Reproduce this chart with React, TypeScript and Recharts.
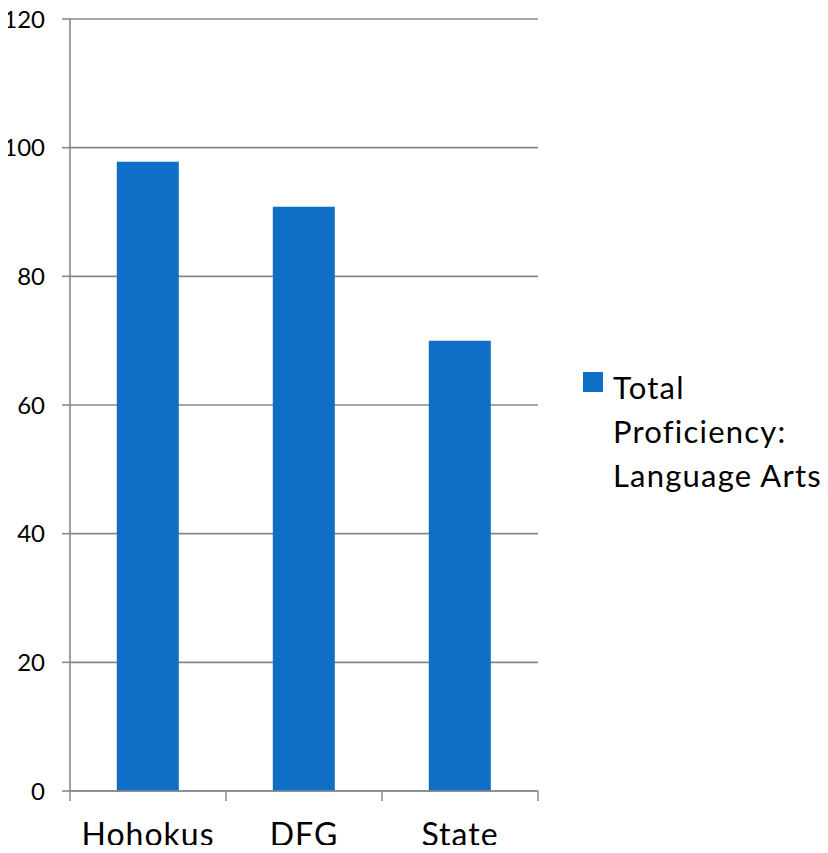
import React from "react";
import {
  BarChart,
  Bar,
  XAxis,
  YAxis,
  CartesianGrid,
  Legend,
} from "recharts";

const categories = ["Hohokus", "DFG", "State"];
const proficiency = [97.8, 90.8, 70];
const yTicks = [0, 20, 40, 60, 80, 100, 120];
const legendLines = ["Total", "Proficiency:", "Language Arts"];
const seriesName = legendLines.join(" ");

const data = categories.map((name, i) => ({ name, value: proficiency[i] }));

const W = 828;
const H = 853;
const yAxisWidth = 70;
const plotRight = 538;
const legendWidth = 245;
// the legend's width is added to the right offset by recharts
const margin = { top: 19, right: W - plotRight - legendWidth, bottom: 12, left: 0 };
const band = (plotRight - yAxisWidth) / categories.length;
const grey = "#888888";
const blue = "#0F6FC6";
const font = "Lato, 'Open Sans', sans-serif";

function CategoryTick(props: any) {
  const { x, y, payload, index } = props;
  const half = band / 2;
  return (
    <g>
      <line x1={x - half} y1={y - 8} x2={x - half} y2={y + 2} stroke={grey} strokeWidth={1.5} />
      {index === categories.length - 1 && (
        <line x1={x + half} y1={y - 8} x2={x + half} y2={y + 2} stroke={grey} strokeWidth={1.5} />
      )}
      <text
        x={x}
        y={y + 47}
        textAnchor="middle"
        fontSize={32}
        letterSpacing={1}
        fill="#000"
        fontFamily={font}
      >
        {payload.value}
      </text>
    </g>
  );
}

function LegendBox() {
  return (
    <div style={{ display: "flex", alignItems: "flex-start", fontFamily: font, width: legendWidth }}>
      <div style={{ width: 20, height: 20, background: blue, marginTop: 7, marginRight: 10, flexShrink: 0 }} />
      <div style={{ fontSize: 31, lineHeight: "44px", color: "#000", letterSpacing: "1.2px", whiteSpace: "nowrap" }}>
        {legendLines.map((line) => (
          <div key={line}>{line}</div>
        ))}
      </div>
    </div>
  );
}

export default function App() {
  return (
    <div style={{ margin: -8, background: "#fff", width: W, height: H }}>
      <BarChart width={W} height={H} data={data} margin={margin} barCategoryGap="30%">
        <CartesianGrid vertical={false} stroke={grey} strokeWidth={1.6} />
        <XAxis
          dataKey="name"
          height={50}
          tickLine={false}
          axisLine={{ stroke: grey, strokeWidth: 1.6 }}
          tick={<CategoryTick />}
          interval={0}
        />
        <YAxis
          width={yAxisWidth}
          domain={[0, 120]}
          ticks={yTicks}
          tickSize={8}
          tickMargin={17}
          axisLine={{ stroke: grey, strokeWidth: 1.6 }}
          tickLine={{ stroke: grey, strokeWidth: 1.6 }}
          tick={{ fontSize: 24, fill: "#000", fontFamily: font }}
        />
        <Legend
          layout="vertical"
          verticalAlign="middle"
          align="right"
          content={<LegendBox />}
          wrapperStyle={{ left: 583, top: 365, width: legendWidth }}
        />
        <Bar dataKey="value" name={seriesName} fill={blue} isAnimationActive={false} />
      </BarChart>
    </div>
  );
}
